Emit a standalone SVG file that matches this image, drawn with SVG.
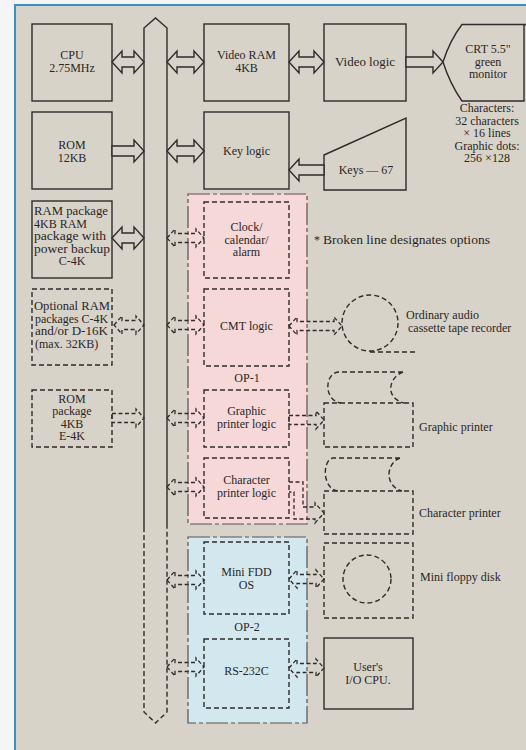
<svg xmlns="http://www.w3.org/2000/svg" width="526" height="750" viewBox="0 0 526 750">
<style>
text{font-family:"Liberation Serif","Times New Roman",serif;font-size:12px;fill:#2a2626}
.c{text-anchor:middle}
.s{fill:none;stroke:#2f2b2b;stroke-width:1.4}
.d{fill:none;stroke:#2f2b2b;stroke-width:1.4;stroke-dasharray:5 3}
.a{fill:#d8d3c8;stroke:#2f2b2b;stroke-width:1.4}
.ad{fill:none;stroke:#2f2b2b;stroke-width:1.3;stroke-dasharray:4 2.5}
</style>
<rect x="0" y="0" width="526" height="750" fill="#f3f5f6"/>
<rect x="15" y="5" width="520" height="750" fill="#d8d3c8"/>
<path d="M15,750 V5 H526" fill="none" stroke="#3b8fc2" stroke-width="2"/>

<g id="op1"><rect x="188" y="194" width="119" height="330" fill="#f6d8d8" stroke="#5a5050" stroke-width="1.2" stroke-dasharray="22 3 4 3"/><text class="c" x="247" y="382">OP-1</text></g>
<g id="op2"><rect x="188" y="537" width="119" height="186" fill="#d3e8ee" stroke="#5a5050" stroke-width="1.2" stroke-dasharray="22 3 4 3"/><text class="c" x="247" y="631">OP-2</text></g>

<g id="bus">
<path class="s" d="M144,527 V28 L155.5,18 L167,28 V527"/>
<path class="d" d="M144,527 V712 L155.5,723 L167,712 V527"/>
</g>

<g id="cpu"><rect class="s" x="32" y="24" width="80" height="77"/><text class="c" x="72" y="58.5">CPU</text><text class="c" x="72" y="72">2.75MHz</text></g>
<g id="rom"><rect class="s" x="32" y="112" width="80" height="77"/><text class="c" x="72" y="148.5">ROM</text><text class="c" x="72" y="162">12KB</text></g>
<g id="ram-package"><rect class="s" x="32" y="201" width="80" height="77"/>
<text x="34" y="215" textLength="74" lengthAdjust="spacingAndGlyphs">RAM package</text><text x="34" y="227.5">4KB RAM</text><text x="34" y="240" textLength="72" lengthAdjust="spacingAndGlyphs">package with</text><text x="34" y="252.5" textLength="76" lengthAdjust="spacingAndGlyphs">power backup</text><text class="c" x="72" y="265">C-4K</text></g>
<g id="optional-ram"><rect class="d" x="32" y="289" width="80" height="76"/>
<text x="34" y="310" textLength="76" lengthAdjust="spacingAndGlyphs">Optional RAM</text><text x="35" y="322.5" textLength="73" lengthAdjust="spacingAndGlyphs">packages C-4K</text><text x="35" y="335" textLength="73" lengthAdjust="spacingAndGlyphs">and/or D-16K</text><text x="35" y="347.5">(max. 32KB)</text></g>
<g id="rom-package"><rect class="d" x="32" y="390" width="80" height="57"/>
<text class="c" x="72" y="402.5">ROM</text><text class="c" x="72" y="415">package</text><text class="c" x="72" y="427.5">4KB</text><text class="c" x="72" y="440">E-4K</text></g>

<g id="video-ram"><rect class="s" x="204" y="24" width="85" height="77"/><text class="c" x="246.5" y="58.5">Video RAM</text><text class="c" x="246.5" y="72">4KB</text></g>
<g id="video-logic"><rect class="s" x="324" y="24" width="82" height="77"/><text class="c" x="365" y="66" textLength="60" lengthAdjust="spacingAndGlyphs">Video logic</text></g>
<g id="crt"><path class="s" d="M526,24.5 H462 Q450,40 443,62 Q450,84 462,101 H524 V24.5"/>
<text class="c" x="488" y="53">CRT 5.5"</text><text class="c" x="488" y="65.5">green</text><text class="c" x="488" y="78">monitor</text></g>
<g id="crt-notes"><text class="c" x="487" y="112">Characters:</text><text class="c" x="487" y="124.5">32 characters</text><text class="c" x="487" y="137">× 16 lines</text><text class="c" x="487" y="149.5">Graphic dots:</text><text class="c" x="487" y="162">256 ×128</text></g>
<g id="key-logic"><rect class="s" x="204" y="112" width="85" height="77"/><text class="c" x="246.5" y="155">Key logic</text></g>
<g id="keys"><path class="s" d="M324,155 L406,118 V190 H324 Z"/><text class="c" x="366" y="174">Keys — 67</text></g>

<g id="clock"><rect class="d" x="204" y="202" width="85" height="76"/><text class="c" x="246.5" y="231">Clock/</text><text class="c" x="246.5" y="243.5">calendar/</text><text class="c" x="246.5" y="256">alarm</text></g>
<g id="cmt"><rect class="d" x="204" y="289" width="85" height="77"/><text class="c" x="246.5" y="330">CMT logic</text></g>
<g id="graphic-logic"><rect class="d" x="204" y="390" width="85" height="57"/><text class="c" x="246.5" y="415">Graphic</text><text class="c" x="246.5" y="427.5">printer logic</text></g>
<g id="char-logic"><rect class="d" x="204" y="458" width="85" height="60"/><text class="c" x="246.5" y="484">Character</text><text class="c" x="246.5" y="496.5">printer logic</text></g>
<g id="fdd"><rect class="d" x="204" y="542" width="85" height="72"/><text class="c" x="246.5" y="576">Mini FDD</text><text class="c" x="246.5" y="588.5">OS</text></g>
<g id="rs232c"><rect class="d" x="204" y="639" width="85" height="69"/><text class="c" x="246.5" y="675">RS-232C</text></g>

<g id="note"><text x="314" y="244">*</text><text x="323" y="244" textLength="167" lengthAdjust="spacingAndGlyphs">Broken line designates options</text></g>

<g id="cassette"><circle class="d" cx="370" cy="323" r="28"/><path class="d" d="M370,352 H418"/>
<text x="406" y="319">Ordinary audio</text><text x="408" y="332">cassette tape recorder</text></g>
<g id="graphic-printer"><path class="d" d="M403,372 H338 C324,374 324,401 341,403 M403,372 C388,378 385,398 404,403"/><rect class="d" x="324" y="403" width="89" height="44"/><text x="419" y="431">Graphic printer</text></g>
<g id="char-printer"><path class="d" d="M400,458 H333 C322,460 322,489 338,491 M400,458 C386,463 384,486 402,491"/><rect class="d" x="324" y="491" width="89" height="43"/><text x="419" y="517">Character printer</text></g>
<g id="floppy"><rect class="d" x="324" y="543" width="89" height="75"/><circle class="d" cx="367" cy="579" r="24"/><text x="420" y="581">Mini floppy disk</text></g>
<g id="user-cpu"><rect class="s" x="324" y="638" width="89" height="71"/><text class="c" x="368" y="671">User's</text><text class="c" x="368" y="683.5">I/O CPU.</text></g>

<g id="connectors">
<polygon class="a" points="112,62 122,51 122,57 134,57 134,51 144,62 134,73 134,67 122,67 122,73"/>
<polygon class="a" points="167,62 177,51 177,57 194,57 194,51 204,62 194,73 194,67 177,67 177,73"/>
<polygon class="a" points="289,62 299,51 299,57 314,57 314,51 324,62 314,73 314,67 299,67 299,73"/>
<polygon class="a" points="167,151 177,140 177,146 194,146 194,140 204,151 194,162 194,156 177,156 177,162"/>
<polygon class="a" points="112,238 122,227 122,233 134,233 134,227 144,238 134,249 134,243 122,243 122,249"/>
<polygon class="a" points="112,146 134,146 134,140 144,151 134,162 134,156 112,156"/>
<polygon class="a" points="406,57 433,57 433,51 443,62 433,73 433,67 406,67"/>
<polygon class="a" points="324,165 299,165 299,159 289,170 299,181 299,175 324,175"/>

<polygon class="ad" points="114,325 122,316 122,320.5 136,320.5 136,316 144,325 136,334 136,329.5 122,329.5 122,334"/>
<polygon class="ad" points="112,413.5 136,413.5 136,409 144,418 136,427 136,422.5 112,422.5"/>
<polygon class="ad" points="167,238 175,229 175,233.5 196,233.5 196,229 204,238 196,247 196,242.5 175,242.5 175,247"/>
<polygon class="ad" points="167,325 175,316 175,320.5 196,320.5 196,316 204,325 196,334 196,329.5 175,329.5 175,334"/>
<polygon class="ad" points="167,418 175,409 175,413.5 196,413.5 196,409 204,418 196,427 196,422.5 175,422.5 175,427"/>
<polygon class="ad" points="167,487 175,478 175,482.5 196,482.5 196,478 204,487 196,496 196,491.5 175,491.5 175,496"/>
<polygon class="ad" points="167,580 175,571 175,575.5 196,575.5 196,571 204,580 196,589 196,584.5 175,584.5 175,589"/>
<polygon class="ad" points="167,667 175,658 175,662.5 196,662.5 196,658 204,667 196,676 196,671.5 175,671.5 175,676"/>
<polygon class="ad" points="289,326 297,317 297,321.5 334,321.5 334,317 342,326 334,335 334,330.5 297,330.5 297,335"/>
<polygon class="ad" points="289,415.5 316,415.5 316,411 324,420 316,429 316,424.5 289,424.5"/>
<polygon class="ad" points="289,579 297,570 297,574.5 316,574.5 316,570 324,579 316,588 316,583.5 297,583.5 297,588"/>
<polygon class="ad" points="289,668 297,659 297,663.5 316,663.5 316,659 324,668 316,677 316,672.5 297,672.5 297,677"/>
<path class="ad" d="M289,482 H303 V507 H315 V503 L324,513 L315,523 V519 H294 V492 H289"/>
</g>
</svg>
